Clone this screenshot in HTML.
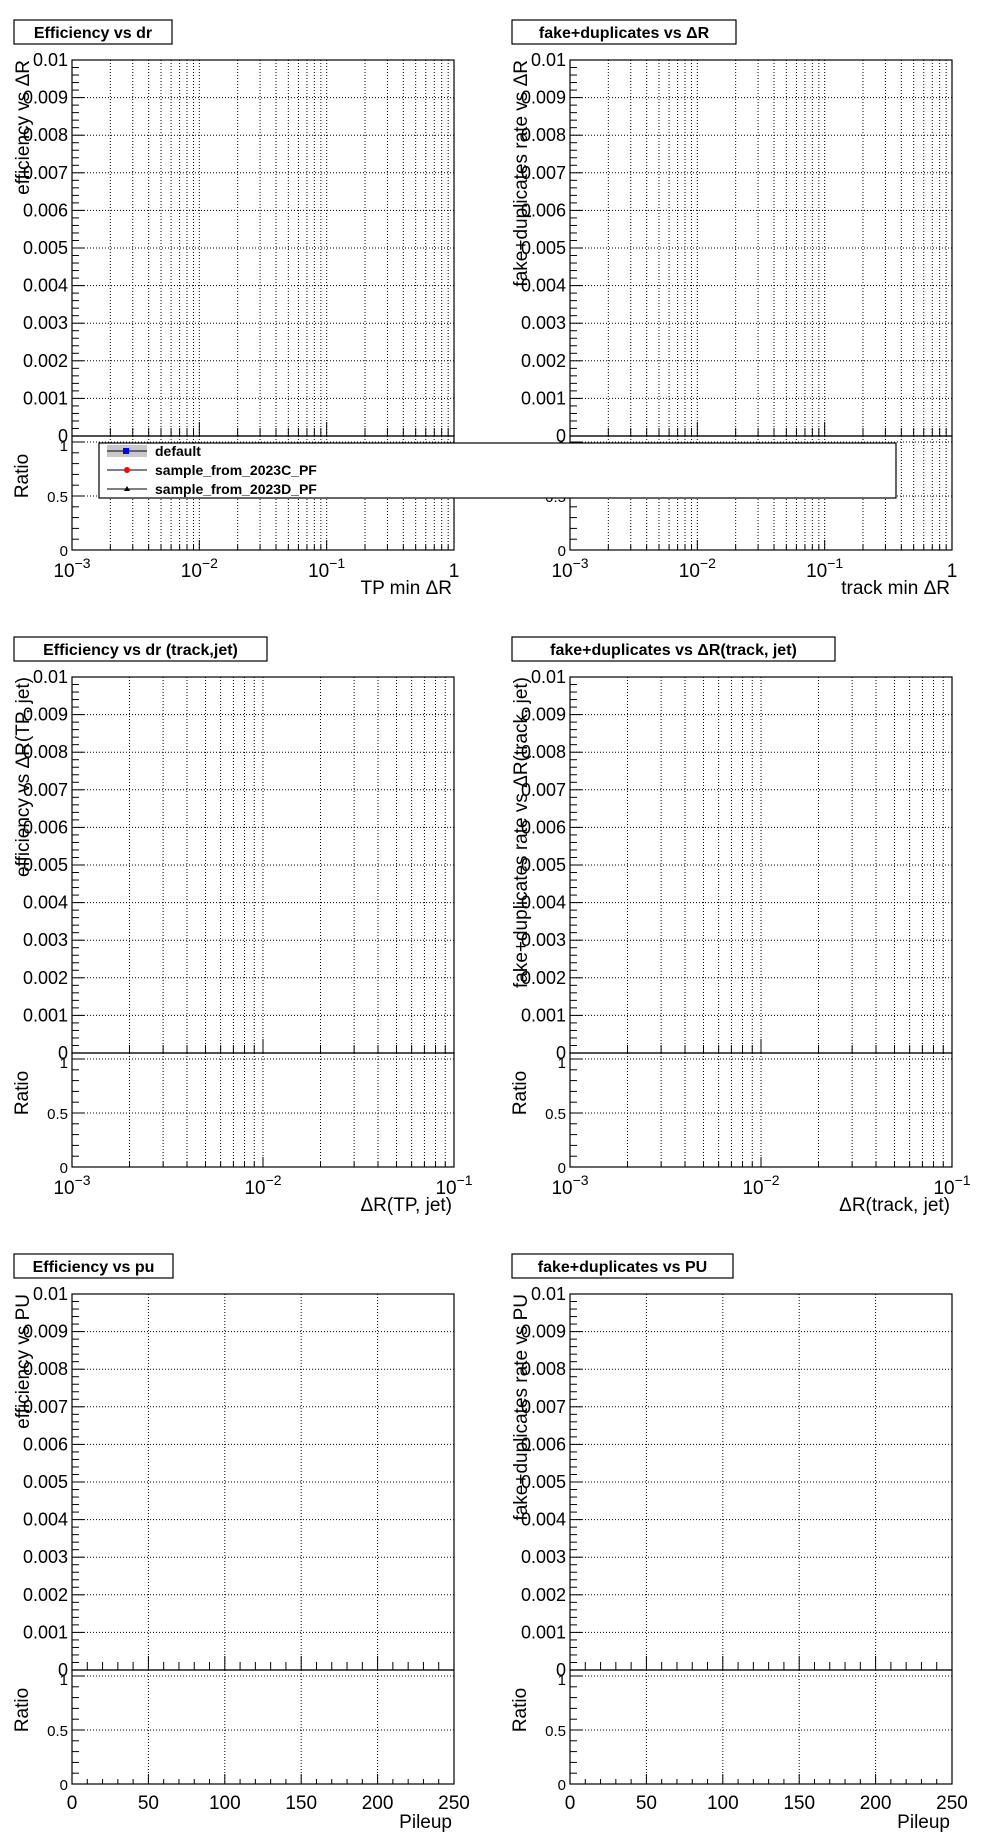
<!DOCTYPE html>
<html><head><meta charset="utf-8"><style>
body{margin:0;background:#fff;}
svg{display:block;font-family:"Liberation Sans",Arial,sans-serif;}
</style></head><body>
<svg id="c" width="996" height="1847" xmlns="http://www.w3.org/2000/svg"></svg>
<script>
const mainYTicks=[0,0.001,0.002,0.003,0.004,0.005,0.006,0.007,0.008,0.009,0.01];
const mainYLabels=["0","0.001","0.002","0.003","0.004","0.005","0.006","0.007","0.008","0.009","0.01"];
const ratioYTicks=[0,0.5,1];
const ratioYLabels=["0","0.5","1"];
const puTicks=[0,50,100,150,200,250];
const seriesNames=["default","sample_from_2023C_PF","sample_from_2023D_PF"];
const seriesDefault=[];
const series2023C=[];
const series2023D=[];
const panels=[
 {title:"Efficiency vs dr",ytitle:"efficiency vs \u0394R",xtitle:"TP min  \u0394R",type:"log",xmin:-3,xmax:0,col:0,row:0,tw:158},
 {title:"fake+duplicates vs  \u0394R",ytitle:"fake+duplicates rate vs  \u0394R",xtitle:"track min  \u0394R",type:"log",xmin:-3,xmax:0,col:1,row:0,tw:224},
 {title:"Efficiency vs dr (track,jet)",ytitle:"efficiency vs  \u0394R(TP, jet)",xtitle:"\u0394R(TP, jet)",type:"log",xmin:-3,xmax:-1,col:0,row:1,tw:253},
 {title:"fake+duplicates vs  \u0394R(track, jet)",ytitle:"fake+duplicates rate vs  \u0394R(track, jet)",xtitle:"\u0394R(track, jet)",type:"log",xmin:-3,xmax:-1,col:1,row:1,tw:323},
 {title:"Efficiency vs pu",ytitle:"efficiency vs PU",xtitle:"Pileup",type:"lin",xmin:0,xmax:250,col:0,row:2,tw:159},
 {title:"fake+duplicates vs PU",ytitle:"fake+duplicates rate vs PU",xtitle:"Pileup",type:"lin",xmin:0,xmax:250,col:1,row:2,tw:221}
];
const svg=document.getElementById('c');
const NS="http://www.w3.org/2000/svg";
function mk(tag,attrs,parent,text){const e=document.createElementNS(NS,tag);for(const k in attrs)e.setAttribute(k,attrs[k]);if(text!==undefined)e.textContent=text;(parent||svg).appendChild(e);return e;}
const colX=[72,570], rowY=[60,677,1294], W=382, MH=376, RH=114;
panels.forEach((p,i)=>{
 const g=mk('g',{});
 
 
 const fx=colX[p.col], fy=rowY[p.row], split=fy+MH, rb=split+RH;
 const xs=v=>p.type==="log"? fx+(Math.log10(v)-p.xmin)/(p.xmax-p.xmin)*W : fx+(v-p.xmin)/(p.xmax-p.xmin)*W;
 const ym=v=>split-v/0.01*MH;
 const yr=v=>rb-v*108;
 const tb=mk('rect',{x:fx-58,y:fy-40,width:p.tw,height:24,fill:'#fff',stroke:'#000','stroke-width':1.2},g);
 
 
 const tt=mk('text',{x:fx-58+p.tw/2,y:fy-22,'text-anchor':'middle','font-size':16,'font-weight':'bold'},g,p.title);
 
 
 let grid=[],minor=[],major=[];
 if(p.type==="log"){for(let d=p.xmin;d<p.xmax;d++){for(let m=1;m<10;m++){const v=m*Math.pow(10,d);if(m===1){major.push(v);}else{grid.push(v);minor.push(v);}}}major.push(Math.pow(10,p.xmax));}
 else{puTicks.forEach(v=>major.push(v));puTicks.forEach(v=>{if(v>0&&v<250)grid.push(v)});for(let v=10;v<250;v+=10)if(v%50)minor.push(v);}
 const gridAll=p.type==="log"?grid.concat(major.slice(1,-1)):grid;
 gridAll.forEach(v=>{const x=xs(v);
  mk('line',{x1:x,y1:fy,x2:x,y2:split,stroke:'#000','stroke-width':1,'stroke-dasharray':'1,2'},g);
  mk('line',{x1:x,y1:split,x2:x,y2:rb,stroke:'#000','stroke-width':1,'stroke-dasharray':'1,2'},g);});
 mainYTicks.forEach(v=>{if(v>0&&v<0.01){mk('line',{x1:fx,y1:ym(v),x2:fx+W,y2:ym(v),stroke:'#000','stroke-width':1,'stroke-dasharray':'1,2'},g);}});
 mk('line',{x1:fx,y1:yr(0.5),x2:fx+W,y2:yr(0.5),stroke:'#000','stroke-width':1,'stroke-dasharray':'1,2'},g);
 mk('line',{x1:fx,y1:yr(1),x2:fx+W,y2:yr(1),stroke:'#000','stroke-width':1,'stroke-dasharray':'1,2'},g);
 const mf=mk('rect',{x:fx,y:fy,width:W,height:MH,fill:'none',stroke:'#000','stroke-width':1.2},g);
 
 
 const rf=mk('rect',{x:fx,y:split,width:W,height:RH,fill:'none',stroke:'#000','stroke-width':1.2},g);
 
 
 for(let k=0;k<=50;k++){const v=k*0.0002;const y=ym(v);mk('line',{x1:fx,y1:y,x2:fx+(k%5===0?12:7),y2:y,stroke:'#000'},g);}
 mainYTicks.forEach((v,j)=>{const t=mk('text',{x:fx-4,y:ym(v)+6,'text-anchor':'end','font-size':18},g,mainYLabels[j]);});
 for(let k=0;k<=10;k++){const v=k*0.1;mk('line',{x1:fx,y1:yr(v),x2:fx+(k%5===0?12:7),y2:yr(v),stroke:'#000'},g);}
 ratioYTicks.forEach((v,j)=>{const t=mk('text',{x:fx-4,y:yr(v)+(v===1?9:6),'text-anchor':'end','font-size':15},g,ratioYLabels[j]);});
 minor.forEach(v=>{const x=xs(v);mk('line',{x1:x,y1:split,x2:x,y2:split-8,stroke:'#000'},g);mk('line',{x1:x,y1:rb,x2:x,y2:rb-5,stroke:'#000'},g);});
 major.forEach(v=>{const x=xs(v);mk('line',{x1:x,y1:split,x2:x,y2:split-14,stroke:'#000'},g);mk('line',{x1:x,y1:rb,x2:x,y2:rb-10,stroke:'#000'},g);});
 major.forEach(v=>{const x=xs(v);let t;
  if(p.type==="log"){const e=Math.round(Math.log10(v));
   if(e===0){t=mk('text',{x:x,y:rb+27,'text-anchor':'middle','font-size':19},g,"1");}
   else{t=mk('text',{x:x,y:rb+27,'text-anchor':'middle','font-size':19},g);mk('tspan',{},t,"10");mk('tspan',{dy:-9,'font-size':14},t,"\u2212"+(-e));}}
  else{t=mk('text',{x:x,y:rb+25,'text-anchor':'middle','font-size':19},g,String(v));}
  });
 const xt=mk('text',{x:fx+W-2,y:rb+44,'text-anchor':'end','font-size':19},g,p.xtitle);
 
 const yx=fx-50;
 const yt=mk('text',{x:0,y:0,'text-anchor':'end','font-size':19,transform:`translate(${yx+7},${fy}) rotate(-90)`},g,p.ytitle);
 
 const rt=mk('text',{x:0,y:0,'text-anchor':'middle','font-size':19,transform:`translate(${yx+6},${split+40}) rotate(-90)`},g,"Ratio");
 
});
const lg=mk('g',{});


mk('rect',{x:99,y:443,width:797,height:55,fill:'#fff',stroke:'#000','stroke-width':1.2},lg);
seriesNames.forEach((n,i)=>{const y=451+i*19;
 if(i===0){mk('rect',{x:107,y:y-6,width:40,height:12,fill:'#c8c8c8'},lg);}
 mk('line',{x1:107,y1:y,x2:147,y2:y,stroke:'#000','stroke-width':1},lg);
 if(i===0)mk('rect',{x:123,y:y-3,width:6,height:6,fill:'#00f'},lg);
 if(i===1)mk('circle',{cx:127,cy:y,r:3,fill:'#f00'},lg);
 if(i===2)mk('polygon',{points:`${124},${y+2} ${130},${y+2} ${127},${y-3}`,fill:'#000'},lg);
 const t=mk('text',{x:155,y:y+5,'font-size':14,'font-weight':'bold'},lg,n);
 
});
</script>
</body></html>
